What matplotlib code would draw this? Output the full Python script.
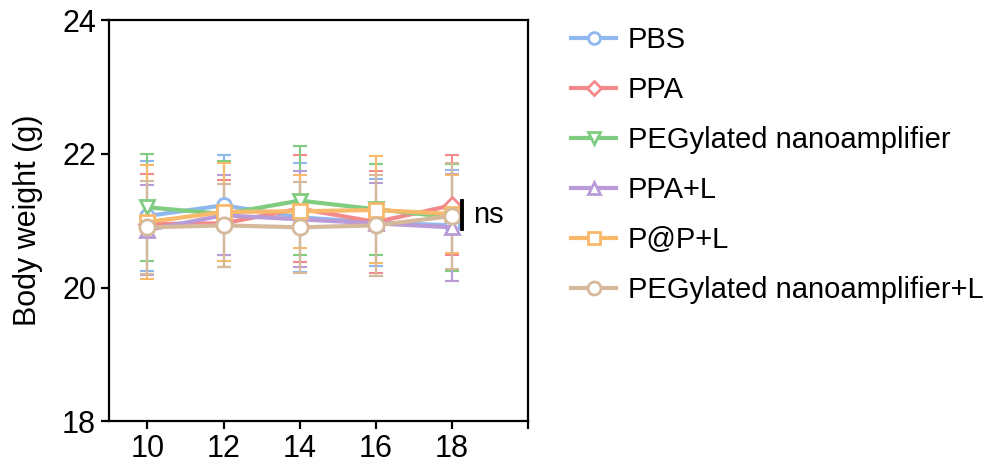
import numpy as np
import matplotlib.pyplot as plt

plt.rcParams['font.family'] = ['Liberation Sans', 'DejaVu Sans']

days = [10, 12, 14, 16, 18]
groups = ["PBS", "PPA", "PEGylated nanoamplifier", "PPA+L", "P@P+L",
          "PEGylated nanoamplifier+L"]

pbs = [21.07, 21.23, 21.05, 20.97, 20.93]
ppa = [20.95, 20.96, 21.18, 20.98, 21.23]
peg = [21.20, 21.10, 21.30, 21.17, 21.05]
ppa_l = [20.86, 21.08, 21.02, 20.96, 20.90]
pap_l = [20.98, 21.13, 21.14, 21.16, 21.10]
peg_l = [20.90, 20.93, 20.90, 20.93, 21.07]

pbs_sd = [0.82, 0.75, 0.82, 0.65, 0.83]
ppa_sd = [0.75, 0.65, 0.80, 0.77, 0.75]
peg_sd = [0.80, 0.80, 0.82, 0.68, 0.80]
ppa_l_sd = [0.68, 0.60, 0.72, 0.60, 0.80]
pap_l_sd = [0.86, 0.73, 0.55, 0.80, 0.58]
peg_l_sd = [0.70, 0.62, 0.68, 0.76, 0.79]

means = [pbs, ppa, peg, ppa_l, pap_l, peg_l]
sds = [pbs_sd, ppa_sd, peg_sd, ppa_l_sd, pap_l_sd, peg_l_sd]
colors = ["#8fb9ee", "#f4898b", "#80cc80", "#b99bd8", "#f8b96a", "#d6b99b"]
markers = ["o", "D", "v", "^", "s", "o"]
msizes = [10, 8, 10, 10, 10, 11]

fig = plt.figure(figsize=(9.93, 4.68), dpi=100)
ax = fig.add_axes([0.11, 0.10, 0.422, 0.857])

for m, s, c in zip(means, sds, colors):
    ax.errorbar(days, m, yerr=s, color=c, ecolor=c, elinewidth=1.5,
                capsize=5, capthick=1.5, fmt="none", zorder=2)
for m, c, mk, ms, lab in zip(means, colors, markers, msizes, groups):
    ax.plot(days, m, color=c, lw=3, marker=mk, ms=ms, mfc="white",
            mec=c, mew=2, label=lab, zorder=3)

# significance bar
last = [m[-1] for m in means]
bx = days[-1] + 0.27
ax.plot([bx, bx], [min(last) - 0.02, max(last) + 0.07], color="black",
        lw=2.8, clip_on=False, zorder=5)
ax.text(bx + 0.28, np.mean([min(last), max(last)]) + 0.02, "ns", fontsize=21,
        va="center", ha="left")

ax.set_xlim(9, 20)
ax.set_ylim(18, 24)
ax.set_xticks([10, 12, 14, 16, 18, 20])
ax.set_xticklabels(["10", "12", "14", "16", "18", ""])
ax.set_yticks([18, 20, 22, 24])
ax.tick_params(labelsize=22, width=1.6, length=6, direction="out")
for sp in ax.spines.values():
    sp.set_linewidth(1.6)
ax.set_ylabel("Body weight (g)", fontsize=22, labelpad=14)

ax.legend(loc="upper left", bbox_to_anchor=(1.06, 1.028), frameon=False,
          fontsize=21, handlelength=1.55, labelspacing=0.75, handletextpad=0.4,
          markerscale=0.85, borderaxespad=0.2)

fig.savefig("out.png", dpi=100)
